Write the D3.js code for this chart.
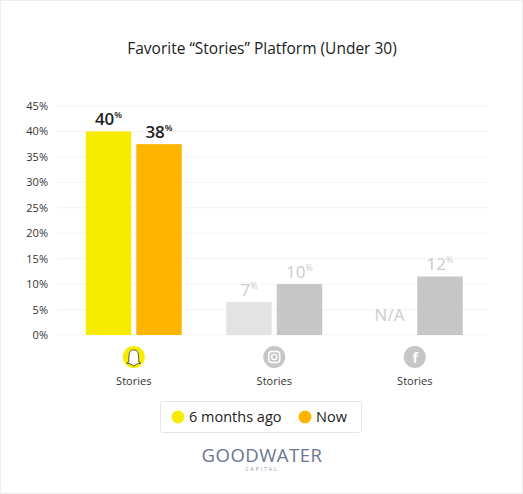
<!DOCTYPE html><html><head><meta charset="utf-8"><script src="https://cdn.jsdelivr.net/npm/d3@7"></script>
<style>body{margin:0;background:#fff}svg{font-family:"Open Sans",Lato,sans-serif}</style></head><body><svg id="c" width="523" height="494"></svg>
<script>
const categories=["snapchat","instagram","facebook"];
const series=["6 months ago","Now"];
const sixMonthsAgo=[40,6.5,null];
const now=[37.5,10,11.5];
const sixLabels=["40","7","N/A"];
const nowLabels=["38","10","12"];
const yTicks=[0,5,10,15,20,25,30,35,40,45];
const colors=[["#f7eb00","#ffb400"],["#e3e3e3","#c6c6c6"],["#e3e3e3","#c6c6c6"]];
const svg=d3.select("#c");
svg.append("rect").attr("x",0.5).attr("y",0.5).attr("width",522).attr("height",493).attr("fill","#fff").attr("stroke","#eee");
svg.append("text").attr("x",262).attr("y",54).attr("text-anchor","middle").attr("font-size",15.5).attr("font-weight",500).attr("fill","#222").text("Favorite “Stories” Platform (Under 30)");
const y=d3.scaleLinear().domain([0,45]).range([335,106]);
const x0=d3.scaleBand().domain(categories).range([63.5,485]).paddingInner(0.317).paddingOuter(0.1585);
const x1=d3.scaleBand().domain(series).range([0,x0.bandwidth()]).paddingInner(0.1);
svg.append("g").selectAll("line").data(yTicks).join("line").attr("x1",57).attr("x2",488).attr("y1",d=>y(d)).attr("y2",d=>y(d)).attr("stroke","#f3f3f3");
svg.append("g").selectAll("text").data(yTicks).join("text").attr("x",48).attr("y",d=>y(d)+4).attr("text-anchor","end").attr("font-size",11).attr("fill","#333").text(d=>d+"%");
const vals=[sixMonthsAgo,now], labs=[sixLabels,nowLabels];
categories.forEach((c,i)=>{
  series.forEach((s,j)=>{
    const v=vals[j][i]; const xx=x0(c)+x1(s), w=x1.bandwidth();
    const lc=i===0?"#222":"#ccc";
    if(v!=null){
      svg.append("rect").attr("x",xx).attr("y",y(v)).attr("width",w).attr("height",y(0)-y(v)).attr("fill",colors[i][j]);
    }
    const t=svg.append("text").attr("x",xx+w/2).attr("y",(v!=null?y(v):y(0)-8)-6).attr("text-anchor","middle").attr("font-size",17).attr("font-weight",i===0?600:500).attr("fill",lc);
    t.append("tspan").text(labs[j][i]);
    if(v!=null) t.append("tspan").attr("font-size",9).attr("dy",-7).text("%");
  });
  const cx=x0(c)+x0.bandwidth()/2;
  svg.append("circle").attr("cx",cx).attr("cy",357).attr("r",11).attr("fill",i===0?"#f7eb00":"#c6c6c6");
  svg.append("text").attr("x",cx).attr("y",385).attr("text-anchor","middle").attr("font-size",11).attr("fill","#333").text("Stories");
});
const s0=x0("snapchat")+x0.bandwidth()/2;
svg.append("path").attr("d",`M${s0-5},${362} C${s0-5},${352} ${s0-4},${350} ${s0},${350} C${s0+4},${350} ${s0+5},${352} ${s0+5},${362} L${s0+7},${363} L${s0+3},${364} L${s0},${366} L${s0-3},${364} L${s0-7},${363}Z`).attr("fill","#fff").attr("stroke","#333").attr("stroke-width",0.8);
const s1=x0("instagram")+x0.bandwidth()/2;
svg.append("rect").attr("x",s1-5.5).attr("y",351.5).attr("width",11).attr("height",11).attr("rx",3).attr("fill","none").attr("stroke","#fff").attr("stroke-width",1.4);
svg.append("circle").attr("cx",s1).attr("cy",357).attr("r",2.6).attr("fill","none").attr("stroke","#fff").attr("stroke-width",1.4);
const s2=x0("facebook")+x0.bandwidth()/2;
svg.append("text").attr("x",s2+0.5).attr("y",363).attr("text-anchor","middle").attr("font-size",14).attr("font-weight",700).attr("fill","#fff").text("f");
svg.append("rect").attr("x",160.5).attr("y",401.5).attr("width",201).attr("height",31).attr("rx",2).attr("fill","#fff").attr("stroke","#e6e6e6");
const lg=[[178,"6 months ago","#f7eb00"],[305,"Now","#ffb400"]];
lg.forEach(([lx,t,c])=>{svg.append("circle").attr("cx",lx).attr("cy",417).attr("r",6.5).attr("fill",c);
 svg.append("text").attr("x",lx+11).attr("y",422).attr("font-size",14.5).attr("fill","#222").text(t);});
svg.append("text").attr("x",262).attr("y",462).attr("text-anchor","middle").attr("font-size",18.5).attr("fill","#6b7590").attr("letter-spacing",0.5).text("GOODWATER");
svg.append("text").attr("x",262).attr("y",471).attr("text-anchor","middle").attr("font-size",5).attr("fill","#8a93a8").attr("letter-spacing",2).text("CAPITAL");
</script></body></html>
